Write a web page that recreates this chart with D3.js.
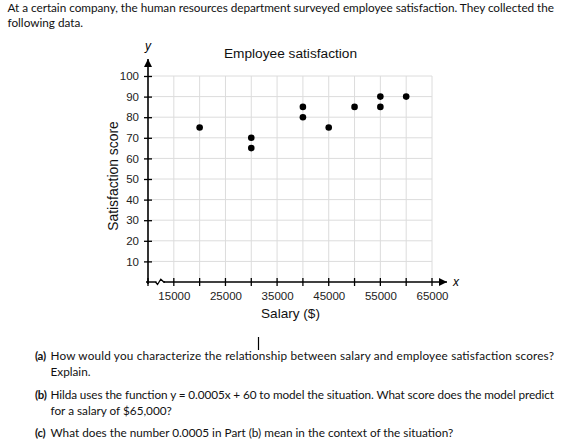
<!DOCTYPE html>
<html>
<head>
<meta charset="utf-8">
<style>
	body { margin: 0; background: #fff; }
	svg { display: block; }
	.tick-label { font-family: "Liberation Sans", Arial, sans-serif; font-size: 11.5px; fill: #222; }
	.body-text { font-family: Lato, "Open Sans", sans-serif; fill: #111; }
</style>
</head>
<body>
<div id="scatter1"></div>

<script src="https://d3js.org/d3.v7.min.js"></script>
<script>

	// data
	var salary = [20000, 30000, 30000, 40000, 40000, 45000, 50000, 55000, 55000, 60000];
	var score  = [75, 70, 65, 85, 80, 75, 85, 90, 85, 90];
	var xTicks = [15000, 20000, 25000, 30000, 35000, 40000, 45000, 50000, 55000, 60000, 65000];
	var xTickLabels = [15000, 25000, 35000, 45000, 55000, 65000];
	var yTicks = [10, 20, 30, 40, 50, 60, 70, 80, 90, 100];

	var introLines = [
		"At a certain company, the human resources department surveyed employee satisfaction. They collected the",
		"following data."
	];
	var questions = [
		{ tag: "(a)", lines: ["How would you characterize the relationship between salary and employee satisfaction scores?", "Explain."] },
		{ tag: "(b)", lines: ["Hilda uses the function y = 0.0005x + 60 to model the situation. What score does the model predict", "for a salary of $65,000?"] },
		{ tag: "(c)", lines: ["What does the number 0.0005 in Part (b) mean in the context of the situation?"] }
	];

	var w = 571, h = 445;

	var svg = d3.select("#scatter1")
				.append("svg")
				.attr("width", w)
				.attr("height", h);

	// scales
	var x = d3.scaleLinear().domain([10000, 65000]).range([148, 432]),
		y = d3.scaleLinear().domain([0, 100]).range([282, 76]);

	// grid
	svg.append("g")
	   .selectAll("line")
	   .data(xTicks)
	   .enter()
	   .append("line")
	   .attr("x1", function(d) { return x(d); })
	   .attr("x2", function(d) { return x(d); })
	   .attr("y1", y(0))
	   .attr("y2", y(100))
	   .attr("stroke", "#dcdcdc");

	svg.append("g")
	   .selectAll("line")
	   .data(yTicks)
	   .enter()
	   .append("line")
	   .attr("x1", x(10000))
	   .attr("x2", x(65000))
	   .attr("y1", function(d) { return y(d); })
	   .attr("y2", function(d) { return y(d); })
	   .attr("stroke", "#dcdcdc");

	// arrowhead
	svg.append("defs").append("marker")
	   .attr("id", "arrow")
	   .attr("viewBox", "0 0 10 10")
	   .attr("refX", 10).attr("refY", 5)
	   .attr("markerWidth", 9).attr("markerHeight", 8)
	   .attr("markerUnits", "userSpaceOnUse")
	   .attr("orient", "auto")
	   .append("path")
	   .attr("d", "M0,0L10,5L0,10Z")
	   .attr("fill", "#000");

	// y axis
	var yAxis = d3.axisLeft(y).tickValues(yTicks).tickSize(0).tickPadding(9);
	var gy = svg.append("g")
		.attr("transform", "translate(" + x(10000) + ",0)")
		.call(yAxis);
	gy.select(".domain").remove();
	gy.selectAll("text").attr("class", "tick-label").attr("font-family", null).attr("font-size", null);
	gy.selectAll(".tick").append("line")
	  .attr("x1", -4).attr("x2", 4)
	  .attr("stroke", "#000").attr("stroke-width", 1.3);

	svg.append("line")
	   .attr("x1", x(10000)).attr("x2", x(10000))
	   .attr("y1", y(0) + 2).attr("y2", 59)
	   .attr("stroke", "#000").attr("stroke-width", 1.6)
	   .attr("marker-end", "url(#arrow)");

	// x axis
	var xAxis = d3.axisBottom(x).tickValues(xTickLabels).tickSize(0).tickPadding(10)
				  .tickFormat(d3.format("d"));
	var gx = svg.append("g")
		.attr("transform", "translate(0," + y(0) + ")")
		.call(xAxis);
	gx.select(".domain").remove();
	gx.selectAll("text").attr("class", "tick-label").attr("font-family", null).attr("font-size", null);

	svg.append("g")
	   .selectAll("line")
	   .data([10000].concat(xTicks))
	   .enter()
	   .append("line")
	   .attr("x1", function(d) { return x(d); })
	   .attr("x2", function(d) { return x(d); })
	   .attr("y1", y(0) - 4)
	   .attr("y2", y(0) + 4)
	   .attr("stroke", "#000").attr("stroke-width", 1.3);

	svg.append("line")
	   .attr("x1", x(10000) - 2).attr("x2", 447)
	   .attr("y1", y(0)).attr("y2", y(0))
	   .attr("stroke", "#000").attr("stroke-width", 1.6)
	   .attr("marker-end", "url(#arrow)");

	// axis break
	svg.append("rect")
	   .attr("x", 156.5).attr("y", y(0) - 2).attr("width", 7).attr("height", 4)
	   .attr("fill", "#fff");
	svg.append("path")
	   .attr("d", "M155.5," + y(0) + "L157.5," + (y(0) + 2.5) + "L160.8," + (y(0) - 2.8) + "L163.8," + y(0) + "L165," + y(0))
	   .attr("fill", "none").attr("stroke", "#000").attr("stroke-width", 1.3);

	// axis letters
	svg.append("text")
	   .attr("x", x(10000)).attr("y", 50)
	   .attr("text-anchor", "middle")
	   .attr("font-family", "Liberation Sans, Arial, sans-serif")
	   .attr("font-style", "italic").attr("font-size", 12)
	   .text("y");
	svg.append("text")
	   .attr("x", 453).attr("y", y(0) + 4)
	   .attr("font-family", "Liberation Sans, Arial, sans-serif")
	   .attr("font-style", "italic").attr("font-size", 12)
	   .text("x");

	// titles
	svg.append("text")
	   .attr("x", 290.5).attr("y", 58)
	   .attr("text-anchor", "middle")
	   .attr("font-family", "Liberation Sans, Arial, sans-serif")
	   .attr("font-size", 13.7).attr("fill", "#111")
	   .text("Employee satisfaction");

	svg.append("text")
	   .attr("x", 290.5).attr("y", 318)
	   .attr("text-anchor", "middle")
	   .attr("font-family", "Liberation Sans, Arial, sans-serif")
	   .attr("font-size", 13.6).attr("fill", "#111")
	   .text("Salary ($)");

	svg.append("text")
	   .attr("transform", "translate(118,176) rotate(-90)")
	   .attr("text-anchor", "middle")
	   .attr("font-family", "Liberation Sans, Arial, sans-serif")
	   .attr("font-size", 13.9).attr("fill", "#111")
	   .text("Satisfaction score");

	// points
	svg.selectAll("circle")
	   .data(salary)
	   .enter()
	   .append("circle")
	   .attr("cx", function(d) { return x(d); })
	   .attr("cy", function(d, i) { return y(score[i]); })
	   .attr("r", 3.3)
	   .attr("fill", "#000");

	// text around the chart
	var fs = 12;
	var probe = svg.append("text").attr("class", "body-text").attr("font-size", fs)
				   .text(questions[2].lines[0]);
	fs = fs * 403 / probe.node().getComputedTextLength();
	probe.remove();

	function addLine(str, tx, ty, right) {
		var t = svg.append("text")
				   .attr("class", "body-text")
				   .attr("x", tx).attr("y", ty)
				   .attr("font-size", fs)
				   .text(str);
		if (right) {
			t.attr("textLength", right - tx).attr("lengthAdjust", "spacing");
		}
		return t;
	}

	addLine(introLines[0], 7.5, 12, 554);
	addLine(introLines[1], 7.5, 27);

	var qy = [[360, 376], [399, 415], [437]];
	questions.forEach(function(q, i) {
		// the tag keeps a little gap before the question text
		svg.append("text")
		   .attr("class", "body-text")
		   .attr("x", 35).attr("y", qy[i][0])
		   .attr("font-size", fs * 0.97).attr("font-weight", "bold")
		   .attr("letter-spacing", -0.3)
		   .text(q.tag);
		q.lines.forEach(function(l, j) {
			addLine(l, 50.5, qy[i][j], (j === 0 && q.lines.length > 1) ? 554 : null);
		});
	});

	// stray text cursor under the chart
	svg.append("line")
	   .attr("x1", 258.5).attr("x2", 258.5)
	   .attr("y1", 337).attr("y2", 350)
	   .attr("stroke", "#000").attr("stroke-width", 1.2);

</script>
</body>
</html>
